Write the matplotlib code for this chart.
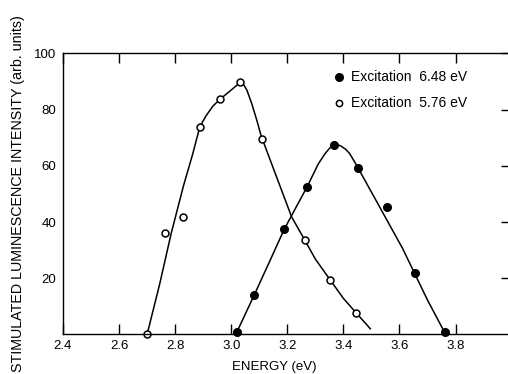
import numpy as np
import matplotlib
matplotlib.use('Agg')
import matplotlib.pyplot as plt

plt.rcParams['font.family'] = ['Liberation Sans', 'DejaVu Sans']

# measured points, excitation 6.48 eV (filled)
e648_x = [3.02, 3.082, 3.188, 3.27, 3.365, 3.452, 3.557, 3.654, 3.762]
e648_y = [0.8, 14.0, 37.6, 52.4, 67.5, 59.2, 45.4, 21.7, 0.8]
# measured points, excitation 5.76 eV (open)
e576_x = [2.70, 2.764, 2.828, 2.888, 2.961, 3.033, 3.111, 3.262, 3.352, 3.446]
e576_y = [0.0, 36.0, 41.8, 73.7, 83.8, 89.8, 69.5, 33.6, 19.5, 7.6]

# hand-drawn curves
c648_x = [3.02, 3.082, 3.138, 3.188, 3.233, 3.271, 3.31, 3.335, 3.352, 3.367, 3.38,
          3.392, 3.408, 3.422, 3.44, 3.452, 3.611, 3.654, 3.70, 3.762]
c648_y = [0.8, 14.0, 26.2, 37.2, 45.6, 52.6, 60.6, 64.4, 66.4, 67.5, 67.5,
          67.0, 65.9, 64.4, 61.4, 59.3, 30.6, 21.7, 12.2, 0.5]
c576_x = [2.70, 2.745, 2.786, 2.83, 2.862, 2.888, 2.91, 2.935, 2.961, 3.00, 3.033,
          3.045, 3.056, 3.073, 3.091, 3.106, 3.111, 3.215, 3.262, 3.30, 3.352,
          3.40, 3.446, 3.496]
c576_y = [0.0, 18.0, 36.0, 53.0, 64.0, 73.9, 77.8, 81.3, 83.8, 87.0, 89.8,
          88.8, 86.9, 82.2, 76.3, 70.9, 69.5, 41.9, 33.6, 26.8, 19.5,
          12.8, 7.6, 2.0]

xticks = [2.4, 2.6, 2.8, 3.0, 3.2, 3.4, 3.6, 3.8]
yticks = [20, 40, 60, 80, 100]

fig = plt.figure(figsize=(5.08, 3.74), dpi=100)
ax = fig.add_axes([0.124, 0.106, 0.876, 0.751])

ax.plot(c576_x, c576_y, color='black', lw=1.1, solid_joinstyle='round')
ax.plot(c648_x, c648_y, color='black', lw=1.1, solid_joinstyle='round')
ax.plot(e576_x, e576_y, 'o', ms=5, mfc='white', mec='black', mew=1.1, clip_on=False)
ax.plot(e648_x, e648_y, 'o', ms=5.5, mfc='black', mec='black', clip_on=False)

ax.set_xlim(2.41, 3.987)
ax.set_ylim(0, 100)
ax.set_xticks(xticks)
ax.set_xticklabels(['2.4', '2.6', '2.8', '3.0', '3.2', '3.4', '3.6', '3.8'], fontsize=9.5)
ax.set_yticks(yticks)
ax.set_yticklabels(['20', '40', '60', '80', '100'], fontsize=9.5)
ax.tick_params(axis='x', direction='in', length=7, width=1, top=True, pad=4)
ax.tick_params(axis='y', direction='in', length=5, width=1, left=False, right=True, pad=5)
ax.spines['right'].set_visible(False)
for s in ['left', 'bottom', 'top']:
    ax.spines[s].set_linewidth(1)

ax.set_ylabel('STIMULATED LUMINESCENCE INTENSITY (arb. units)', fontsize=10.3)
ax.yaxis.set_label_coords(-0.085, 0.5)
ax.text(0.474, -0.095, 'ENERGY (eV)', transform=ax.transAxes, ha='center', va='top', fontsize=9.5)

# legend
ax.plot([3.385], [91.7], 'o', ms=5.5, mfc='black', mec='black')
ax.plot([3.385], [82.4], 'o', ms=4.5, mfc='white', mec='black', mew=1.1)
ax.text(3.428, 91.7, 'Excitation  6.48 eV', fontsize=10, va='center')
ax.text(3.428, 82.4, 'Excitation  5.76 eV', fontsize=10, va='center')

fig.savefig('out.png', dpi=100)
